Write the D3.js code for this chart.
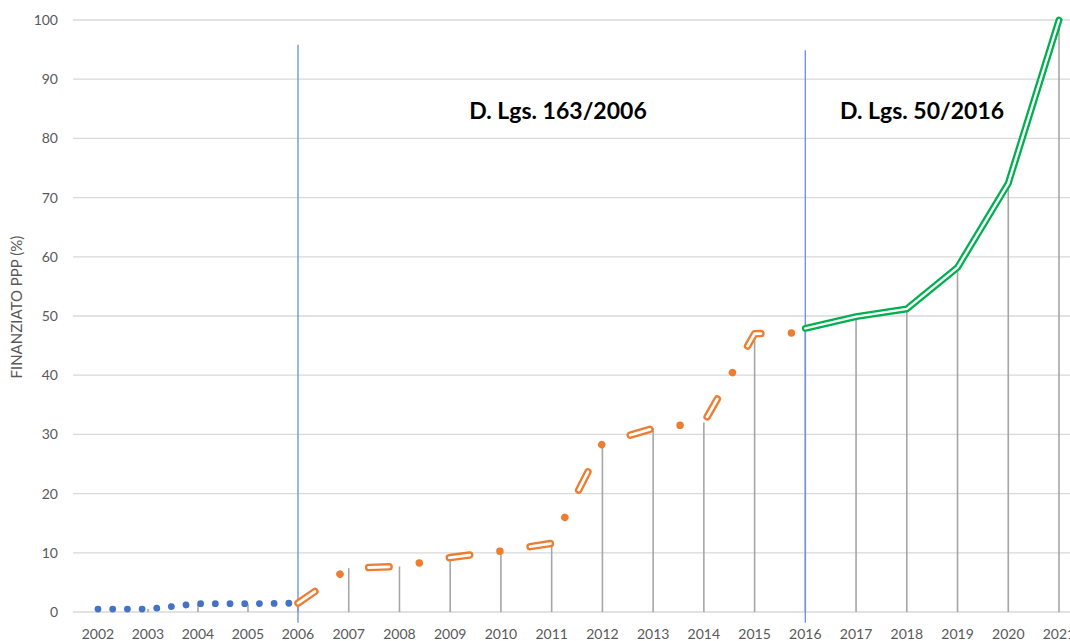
<!DOCTYPE html>
<html>
<head>
<meta charset="utf-8">
<script src="https://cdnjs.cloudflare.com/ajax/libs/d3/7.8.5/d3.min.js"></script>
<style>
  html, body { margin: 0; padding: 0; background: #ffffff; }
  svg { display: block; }
</style>
</head>
<body>
<svg id="chart" width="1070" height="641"></svg>
<script>
// ---- data ----
const years = [2002, 2003, 2004, 2005, 2006, 2007, 2008, 2009, 2010, 2011,
               2012, 2013, 2014, 2015, 2016, 2017, 2018, 2019, 2020, 2021];
const yTicks = [0, 10, 20, 30, 40, 50, 60, 70, 80, 90, 100];

const blueYears = [2002, 2003, 2004, 2005, 2006];
const blueValues = [0.5, 0.5, 1.4, 1.4, 1.5];

const orangeYears = [2006, 2007, 2008, 2009, 2010, 2011, 2012, 2013, 2014, 2015, 2016];
const orangeValues = [1.5, 7.4, 7.7, 9.2, 10.3, 11.6, 28.5, 31.0, 32.0, 47.0, 47.2];

const greenYears = [2016, 2017, 2018, 2019, 2020, 2021];
const greenValues = [47.9, 49.9, 51.2, 58.2, 72.4, 100];

// drop-line values per year (top of gray vertical lines)
const dropValues = [0.5, 0.5, 1.4, 1.4, 1.5, 7.4, 7.7, 9.2, 10.3, 11.6,
                    28.5, 31.0, 32.0, 47.0, 47.9, 49.9, 51.2, 58.2, 72.4, 100];

// separator lines (law changes)
const separatorYears = [2006, 2016];
const separatorTops = [95.8, 94.9];
const separatorBottom = -1.8;

const annotationLabels = ["D. Lgs. 163/2006", "D. Lgs. 50/2016"];
const annotationX = [2011.125, 2018.3];
const annotationY = [83.3, 83.3];

const yAxisTitle = "FINANZIATO PPP (%)";

// ---- scales ----
const svg = d3.select("#chart");
const x = d3.scaleLinear().domain([2002, 2006, 2021]).range([98, 298, 1059]);
const y = d3.scaleLinear().domain([0, 100]).range([612, 20]);
const plotLeft = 73, plotRight = 1090;

const font = "Lato, 'Open Sans', sans-serif";

// gridlines
svg.append("g").selectAll("line").data(yTicks).join("line")
  .attr("x1", plotLeft).attr("x2", plotRight)
  .attr("y1", d => y(d)).attr("y2", d => y(d))
  .attr("stroke", "#d9d9d9").attr("stroke-width", 1.3);

// y tick labels
svg.append("g").selectAll("text").data(yTicks).join("text")
  .attr("x", 58).attr("y", d => y(d)).attr("dy", "0.35em")
  .attr("text-anchor", "end")
  .attr("font-family", font).attr("font-size", 14).attr("fill", "#595959")
  .text(d => d);

// x tick labels
svg.append("g").selectAll("text").data(years).join("text")
  .attr("x", d => x(d)).attr("y", 639)
  .attr("text-anchor", "middle")
  .attr("font-family", font).attr("font-size", 14).attr("fill", "#595959")
  .text(d => d);

// y axis title
svg.append("text")
  .attr("transform", `translate(22, ${y(51.5)}) rotate(-90)`)
  .attr("text-anchor", "middle")
  .attr("font-family", font).attr("font-size", 15).attr("fill", "#595959")
  .text(yAxisTitle);

// drop lines
svg.append("g").selectAll("line").data(years).join("line")
  .attr("x1", d => x(d)).attr("x2", d => x(d))
  .attr("y1", y(0)).attr("y2", (d, i) => y(dropValues[i]))
  .attr("stroke", "#a6a6a6").attr("stroke-width", 1.6);

// separators
svg.append("g").selectAll("line").data(separatorYears).join("line")
  .attr("x1", d => x(d)).attr("x2", d => x(d))
  .attr("y1", (d, i) => y(separatorTops[i])).attr("y2", y(separatorBottom))
  .attr("stroke", "#7394dc").attr("stroke-width", 1.4);

const line = d3.line().x(d => x(d[0])).y(d => y(d[1]));

// blue round-dot series
svg.append("path")
  .datum(blueYears.map((yr, i) => [yr, blueValues[i]]))
  .attr("d", line).attr("fill", "none")
  .attr("stroke", "#4472C4").attr("stroke-width", 6.8)
  .attr("stroke-linecap", "round")
  .attr("stroke-dasharray", "0.01,14.69");

// orange long-dash-dot double line
const orangeData = orangeYears.map((yr, i) => [yr, orangeValues[i]]);
const P = 81.5, dash = 20.5, gap = (P - dash) / 2;
svg.append("path")
  .datum(orangeData).attr("d", line).attr("fill", "none")
  .attr("stroke", "#ED7D31").attr("stroke-width", 7.5)
  .attr("stroke-linecap", "round").attr("stroke-linejoin", "round")
  .attr("stroke-dasharray", `${dash},${gap},0.01,${gap - 0.01}`);
svg.append("path")
  .datum(orangeData).attr("d", line).attr("fill", "none")
  .attr("stroke", "#ffffff").attr("stroke-width", 2.8)
  .attr("stroke-linecap", "round").attr("stroke-linejoin", "round")
  .attr("stroke-dasharray", `${dash},${P - dash}`);

// green double line
const greenData = greenYears.map((yr, i) => [yr, greenValues[i]]);
svg.append("path")
  .datum(greenData).attr("d", line).attr("fill", "none")
  .attr("stroke", "#00B050").attr("stroke-width", 7)
  .attr("stroke-linecap", "round").attr("stroke-linejoin", "miter");
svg.append("path")
  .datum(greenData).attr("d", line).attr("fill", "none")
  .attr("stroke", "#ffffff").attr("stroke-width", 2.4)
  .attr("stroke-linecap", "round").attr("stroke-linejoin", "miter");

// annotations
svg.append("g").selectAll("text").data(annotationLabels).join("text")
  .attr("x", (d, i) => x(annotationX[i])).attr("y", (d, i) => y(annotationY[i]))
  .attr("text-anchor", "middle")
  .attr("font-family", font).attr("font-weight", 700).attr("font-size", 23)
  .attr("fill", "#000000")
  .text(d => d);
</script>
</body>
</html>
